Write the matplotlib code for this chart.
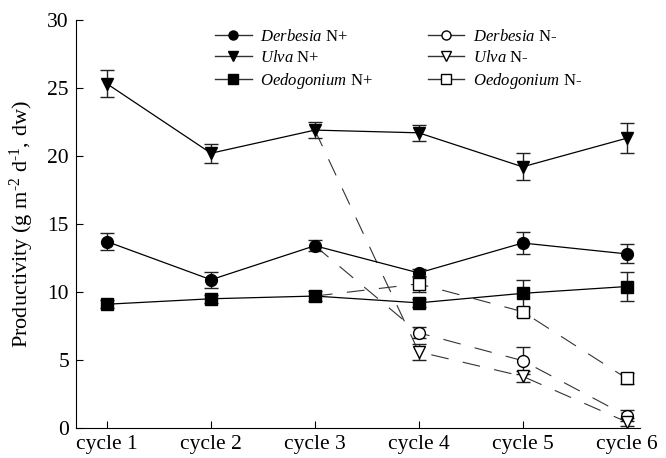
import matplotlib
matplotlib.use('Agg')
import matplotlib.pyplot as plt

plt.rcParams['font.family'] = ['Liberation Serif', 'DejaVu Serif']
plt.rcParams['mathtext.fontset'] = 'custom'
plt.rcParams['mathtext.rm'] = 'Liberation Serif'
plt.rcParams['mathtext.it'] = 'Liberation Serif:italic'

# data
cycles = ['cycle 1', 'cycle 2', 'cycle 3', 'cycle 4', 'cycle 5', 'cycle 6']
x_all = [1, 2, 3, 4, 5, 6]
x_neg = [3, 4, 5, 6]

derb_pos = [13.7, 10.9, 13.4, 11.4, 13.6, 12.8]
derb_pos_err = [0.6, 0.6, 0.4, 0.3, 0.8, 0.7]
ulva_pos = [25.3, 20.2, 21.9, 21.7, 19.2, 21.3]
ulva_pos_err = [1.0, 0.7, 0.6, 0.6, 1.0, 1.1]
oedo_pos = [9.1, 9.5, 9.7, 9.2, 9.9, 10.4]
oedo_pos_err = [0.3, 0.3, 0.4, 0.3, 1.0, 1.1]

derb_neg = [13.4, 7.0, 4.95, 0.9]
derb_neg_err = [0.0, 0.4, 1.0, 0.4]
ulva_neg = [21.9, 5.6, 3.8, 0.45]
ulva_neg_err = [0.0, 0.6, 0.4, 0.3]
oedo_neg = [9.7, 10.6, 8.55, 3.65]
oedo_neg_err = [0.0, 0.6, 0.3, 0.4]

fig = plt.figure(figsize=(6.66, 4.58), dpi=100)
ax = fig.add_axes([0.114, 0.0655, 0.847, 0.891])

dash = (0, (16, 13))
ms = 8.5

def series(y, err, xs, marker, fill, ls, label):
    ax.errorbar(xs, y, yerr=err, fmt=marker, color='k', ecolor='#222222',
                elinewidth=1, capsize=5, capthick=1, markersize=ms,
                mfc=fill, mec='k', mew=1, ls=ls, lw=0.9, zorder=3)
    # legend handle proxy
    ax.plot([], [], marker=marker, color='#333333', mfc=fill, mec='k',
            markersize=6.5, lw=1, label=label)

# dashed N- lines drawn under the solid ones
for y in [derb_neg, ulva_neg, oedo_neg]:
    ax.plot(x_neg, y, ls=dash, color='#333333', lw=0.8, zorder=2)

series(derb_pos, derb_pos_err, x_all, 'o', 'k', '-', r'$\mathit{Derbesia}$ N+')
series(ulva_pos, ulva_pos_err, x_all, 'v', 'k', '-', r'$\mathit{Ulva}$ N+')
series(oedo_pos, oedo_pos_err, x_all, 's', 'k', '-', r'$\mathit{Oedogonium}$ N+')
series(derb_neg[1:], derb_neg_err[1:], x_neg[1:], 'o', 'white', 'none', r'$\mathit{Derbesia}$ N-')
series(ulva_neg[1:], ulva_neg_err[1:], x_neg[1:], 'v', 'white', 'none', r'$\mathit{Ulva}$ N-')
series(oedo_neg[1:], oedo_neg_err[1:], x_neg[1:], 's', 'white', 'none', r'$\mathit{Oedogonium}$ N-')

ax.set_xlim(0.7, 6.13)
ax.set_ylim(0, 30)
ax.set_xticks(x_all)
ax.set_xticklabels(cycles)
ax.set_yticks([0, 5, 10, 15, 20, 25, 30])
ax.tick_params(direction='in', labelsize=15.5, length=5, width=0.8, pad=5)
ax.spines['top'].set_visible(False)
ax.spines['right'].set_visible(False)
for s in ['left', 'bottom']:
    ax.spines[s].set_linewidth(0.8)
ax.set_ylabel(r'Productivity (g m$^{\text{-2}}$ d$^{\text{-1}}$, dw)', fontsize=16,
              labelpad=8)

ax.legend(ncol=2, frameon=False, fontsize=12, loc='upper left',
          bbox_to_anchor=(0.22, 1.015), handlelength=2.2, columnspacing=3.3,
          labelspacing=0.3, handletextpad=0.5)

fig.savefig('out.png', dpi=100)
